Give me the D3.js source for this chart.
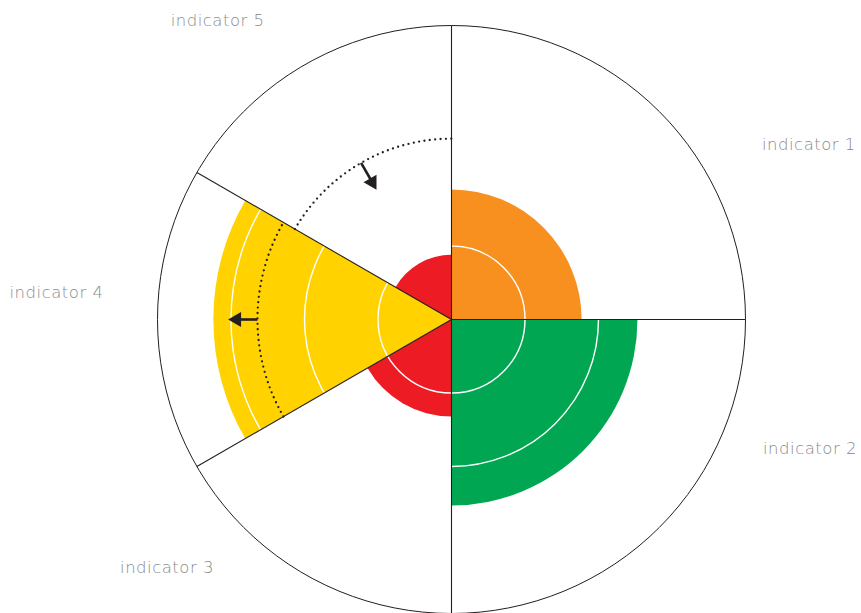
<!DOCTYPE html>
<html>
<head>
<meta charset="utf-8">
<script src="https://cdn.jsdelivr.net/npm/d3@7"></script>
<style>
  html, body { margin: 0; padding: 0; background: #fff; }
  svg { display: block; }
  .label { font-family: "DejaVu Sans", "Noto Sans", sans-serif; font-weight: 200; font-size: 16.5px; letter-spacing: 0.5px; fill: #8a8a8a; }
</style>
</head>
<body>
<div id="chart"></div>
<script>
// indicators, sector extents (degrees clockwise from 12 o'clock) and scores
const indicators = ["indicator 1", "indicator 2", "indicator 3", "indicator 4", "indicator 5"];
const startDeg = [0, 90, 180, 240, 300];
const endDeg = [90, 180, 240, 300, 360];
const scores = [1.77, 2.53, 1.32, 3.24, 0.88];
const colors = ["#F7901E", "#00A651", "#ED1C24", "#FFD200", "#ED1C24"];
const ringTicks = [1, 2, 3];
const maxScore = 4;

// trend arrows: which indicator, dotted arc level, arrow start/end level, arrow angle
const trendIndex = [4, 3];
const trendArc = [2.46, 2.64];
const trendFrom = [2.46, 2.64];
const trendTo = [2.04, 3.04];
const trendDeg = [330, 270];

class Rose {
    constructor(opts) {
        this.element = opts.element;
        this.draw();
    }

    draw() {
        this.width = 861;
        this.height = 613;
        this.center = { x: 451.5, y: 319.5 };
        // label placement (angle, distance from centre in px)
        this.labelDeg = [63.9, 109.8, 229, 274, 322];
        this.labelDist = [398, 381, 377, 396, 380];

        const svg = d3.select(this.element).append('svg')
            .attr('width', this.width)
            .attr('height', this.height);

        this.plot = svg.append('g')
            .attr('transform', `translate(${this.center.x},${this.center.y})`);

        this.r = d3.scaleLinear().domain([0, maxScore]).range([0, 294]);
        this.rad = d => d * Math.PI / 180;

        this.addWedges();
        this.addRings();
        this.addFrame();
        this.addTrends();
        this.addLabels();
    }

    pt(deg, rr) {
        const a = this.rad(deg);
        return [rr * Math.sin(a), -rr * Math.cos(a)];
    }

    addWedges() {
        const arc = d3.arc().innerRadius(0);
        this.plot.append('g').selectAll('path')
            .data(indicators)
            .join('path')
            .attr('d', (d, i) => arc({
                startAngle: this.rad(startDeg[i]),
                endAngle: this.rad(endDeg[i]),
                outerRadius: this.r(scores[i])
            }))
            .attr('fill', (d, i) => colors[i]);
    }

    addRings() {
        this.plot.append('g').selectAll('circle')
            .data(ringTicks)
            .join('circle')
            .attr('r', d => this.r(d))
            .attr('fill', 'none')
            .attr('stroke', '#fff')
            .attr('stroke-width', 1.4);
    }

    addFrame() {
        const g = this.plot.append('g')
            .attr('stroke', '#231F20')
            .attr('fill', 'none');
        g.append('circle')
            .attr('r', this.r(maxScore))
            .attr('stroke-width', 1);
        g.selectAll('line')
            .data(startDeg)
            .join('line')
            .attr('x1', 0).attr('y1', 0)
            .attr('x2', d => this.pt(d, this.r(maxScore))[0])
            .attr('y2', d => this.pt(d, this.r(maxScore))[1])
            .attr('stroke-width', 1.1);
    }

    addTrends() {
        const g = this.plot.append('g');
        trendIndex.forEach((idx, k) => {
            // dotted arc across the sector
            const p = d3.path();
            const rr = this.r(trendArc[k]);
            p.arc(0, 0, rr, this.rad(startDeg[idx] - 90), this.rad(endDeg[idx] - 90), false);
            g.append('path')
                .attr('d', p.toString())
                .attr('fill', 'none')
                .attr('stroke', '#231F20')
                .attr('stroke-width', 2.3)
                .attr('stroke-linecap', 'round')
                .attr('stroke-dasharray', '0 5.4');

            // arrow
            const r0 = this.r(trendFrom[k]);
            const r1 = this.r(trendTo[k]);
            const dir = r1 > r0 ? 1 : -1;
            const base = r1 - dir * 12;
            const s = this.pt(trendDeg[k], r0);
            const e = this.pt(trendDeg[k], base);
            g.append('line')
                .attr('x1', s[0]).attr('y1', s[1])
                .attr('x2', e[0]).attr('y2', e[1])
                .attr('stroke', '#231F20')
                .attr('stroke-width', 2.6);
            const tip = this.pt(trendDeg[k], r1);
            // triangle pointing along the radius
            const rot = trendDeg[k] - 90 + (dir > 0 ? 0 : 180);
            g.append('path')
                .attr('d', 'M0,0L-13,-7.5L-13,7.5Z')
                .attr('transform', `translate(${tip[0]},${tip[1]}) rotate(${rot})`)
                .attr('fill', '#231F20');
        });
    }

    addLabels() {
        this.plot.append('g').selectAll('text')
            .data(indicators)
            .join('text')
            .attr('class', 'label')
            .attr('x', (d, i) => this.pt(this.labelDeg[i], this.labelDist[i])[0])
            .attr('y', (d, i) => this.pt(this.labelDeg[i], this.labelDist[i])[1])
            .attr('text-anchor', 'middle')
            .attr('dy', '0.35em')
            .text(d => d);
    }
}

new Rose({ element: document.getElementById('chart') });
</script>
</body>
</html>
